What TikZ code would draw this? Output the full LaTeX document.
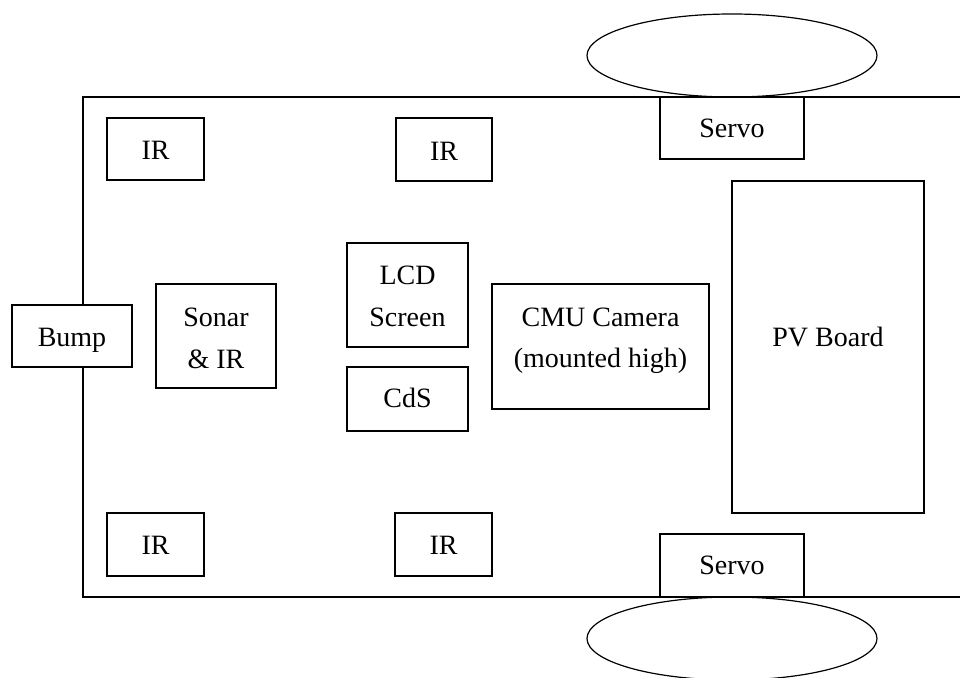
\documentclass[tikz,border=0pt]{standalone}
\usepackage{fontspec}
\setmainfont{Liberation Serif}
\usetikzlibrary{shapes.geometric}
% text placed with its first baseline #1 pt below the node centre
\newcommand\partlabel[2]{\raisebox{-#1pt}[0pt][0pt]{\begin{tabular}[t]{@{}c@{}}#2\end{tabular}}}
\begin{document}
\begin{tikzpicture}[x=0.5pt,y=-0.5pt,
  part/.style={draw,line width=0.6pt,fill=white,inner sep=0pt,
    font=\fontsize{14}{20.6}\selectfont},
  wheel/.style={draw,line width=0.6pt,fill=white,ellipse,inner sep=0pt,
    minimum width=145pt,minimum height=41.5pt}]
\useasboundingbox (0,0) rectangle (960,678);
\clip (0,0) rectangle (960,678);
% chassis
\draw[line width=0.6pt] (1000,97) -- (83,97) -- (83,597) -- (1000,597);
% wheels
\node[wheel] (wtop) at (732,55.5) {};
\node[wheel] (wbot) at (732,638.5) {};
% parts
\node[part,minimum width=48.5pt,minimum height=31pt] (ir1) at (155.5,149) {\partlabel{5.5}{IR}};
\node[part,minimum width=48pt,minimum height=31.5pt] (ir2) at (444,149.5) {\partlabel{5.5}{IR}};
\node[part,minimum width=48.5pt,minimum height=31.5pt] (ir3) at (155.5,544.5) {\partlabel{5.25}{IR}};
\node[part,minimum width=48.5pt,minimum height=31.5pt] (ir4) at (443.5,544.5) {\partlabel{5.25}{IR}};
\node[part,minimum width=72pt,minimum height=31pt] (servo1) at (732,128) {\partlabel{5}{Servo}};
\node[part,minimum width=72pt,minimum height=31.5pt] (servo2) at (732,565.5) {\partlabel{4.75}{Servo}};
\node[part,minimum width=96pt,minimum height=166pt] (pv) at (828,347) {\partlabel{0}{PV Board}};
\node[part,minimum width=60pt,minimum height=31pt] (bump) at (72,336) {\partlabel{5.5}{Bump}};
\node[part,minimum width=60pt,minimum height=52pt] (sonar) at (216,336) {\partlabel{-4.5}{Sonar\\\& IR}};
\node[part,minimum width=60.5pt,minimum height=52pt] (lcd) at (407.5,295) {\partlabel{-5}{LCD\\Screen}};
\node[part,minimum width=60.5pt,minimum height=32pt] (cds) at (407.5,399) {\partlabel{4.5}{CdS}};
\node[part,minimum width=108.5pt,minimum height=62.5pt] (cmu) at (600.5,346.5) {\partlabel{-9.9}{CMU Camera\\(mounted high)}};
\end{tikzpicture}
\end{document}
